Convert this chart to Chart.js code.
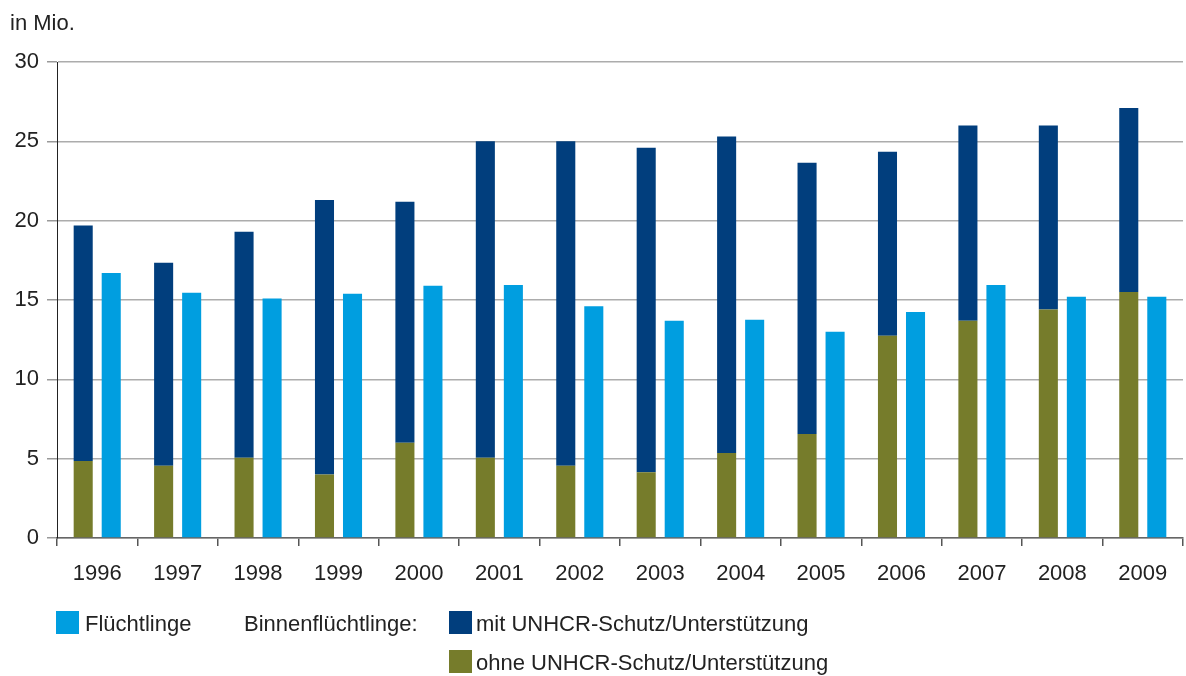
<!DOCTYPE html>
<html lang="de">
<head>
<meta charset="utf-8">
<title>Flüchtlinge und Binnenflüchtlinge 1996–2009</title>
<script src="https://cdn.jsdelivr.net/npm/chart.js@4/dist/chart.umd.min.js"></script>
<style>
  body { margin: 0; background: #fff; font-family: 'Liberation Sans', Arial, sans-serif; color: #222; }
  #wrap { position: relative; width: 1186px; height: 676px; }
  #unit { position: absolute; left: 10px; top: 10px; font-size: 22px; }
  .legend-item { position: absolute; font-size: 22px; line-height: 24px; white-space: nowrap; }
  .swatch { position: absolute; width: 23px; height: 23px; }
</style>
</head>
<body>
<div id="wrap">
  <canvas id="chart"></canvas>
  <div id="unit">in Mio.</div>

  <div class="swatch" style="left:56px;top:611px;background:#009ee0"></div>
  <div class="legend-item" style="left:85px;top:612px">Flüchtlinge</div>
  <div class="legend-item" style="left:244px;top:612px">Binnenflüchtlinge:</div>
  <div class="swatch" style="left:449px;top:611px;background:#013e7d"></div>
  <div class="legend-item" style="left:476px;top:612px">mit UNHCR-Schutz/Unterstützung</div>
  <div class="swatch" style="left:449px;top:650px;background:#767c2b"></div>
  <div class="legend-item" style="left:476px;top:651px">ohne UNHCR-Schutz/Unterstützung</div>
</div>

<script>
// Data (Mio.)
const years = ['1996', '1997', '1998', '1999', '2000', '2001', '2002',
  '2003', '2004', '2005', '2006', '2007', '2008', '2009'];

// Binnenflüchtlinge ohne UNHCR-Schutz (green, bottom of stack)
const idpWithout = [4.85, 4.55, 5.05, 4.0, 6.0, 5.05, 4.55,
  4.15, 5.35, 6.55, 12.75, 13.7, 14.4, 15.5];

// Binnenflüchtlinge mit UNHCR-Schutz (navy, on top)
const idpWith = [14.85, 12.8, 14.25, 17.3, 15.2, 19.95, 20.45,
  20.45, 19.95, 17.1, 11.6, 12.3, 11.6, 11.6];

// Flüchtlinge (light blue)
const refugees = [16.7, 15.45, 15.1, 15.4, 15.9, 15.95, 14.6,
  13.7, 13.75, 13.0, 14.25, 15.95, 15.2, 15.2];

const yTicks = [0, 5, 10, 15, 20, 25, 30];

// Colors
const colorGreen = '#767c2b';
const colorNavy = '#013e7d';
const colorBlue = '#009ee0';
const colorText = '#222';
const tickFont = { family: "'Liberation Sans', Arial, sans-serif", size: 22 };

const barDefaults = {
  categoryPercentage: 0.697,
  barPercentage: 0.68,
  borderWidth: 0,
};

const ctx = document.getElementById('chart').getContext('2d');
const chart = new Chart(ctx, {
  type: 'bar',
  data: {
    labels: years,
    datasets: [
      { ...barDefaults, label: 'ohne UNHCR-Schutz/Unterstützung', data: idpWithout, backgroundColor: colorGreen, stack: 'idp' },
      { ...barDefaults, label: 'mit UNHCR-Schutz/Unterstützung', data: idpWith, backgroundColor: colorNavy, stack: 'idp' },
      { ...barDefaults, label: 'Flüchtlinge', data: refugees, backgroundColor: colorBlue, stack: 'ref' },
    ],
  },
  options: {
    responsive: true,
    maintainAspectRatio: false,
    animation: false,
    layout: { padding: { top: 62, right: 3, bottom: 78, left: 0 } },
    plugins: {
      legend: { display: false },
      tooltip: { enabled: false },
    },
    scales: {
      x: {
        offset: true,
        grid: {
          display: true,
          offset: true,
          drawOnChartArea: false,
          drawTicks: true,
          tickLength: 8,
          color: '#555',
          lineWidth: 1.5,
        },
        border: { display: true, color: '#666', width: 1.5 },
        ticks: { color: colorText, font: tickFont, padding: 15, maxRotation: 0 },
        afterFit: scale => { scale.height = 60; },
      },
      y: {
        stacked: true,
        min: 0,
        max: 30,
        afterBuildTicks: scale => { scale.ticks = yTicks.map(v => ({ value: v })); },
        grid: {
          color: '#acacac',
          lineWidth: 1.5,
          tickLength: 10,
          tickColor: '#999',
        },
        border: { display: true, color: '#222', width: 1 },
        ticks: { color: colorText, font: tickFont, padding: 8 },
        afterFit: scale => { scale.width = 57; },
      },
    },
  },
});
</script>
</body>
</html>
